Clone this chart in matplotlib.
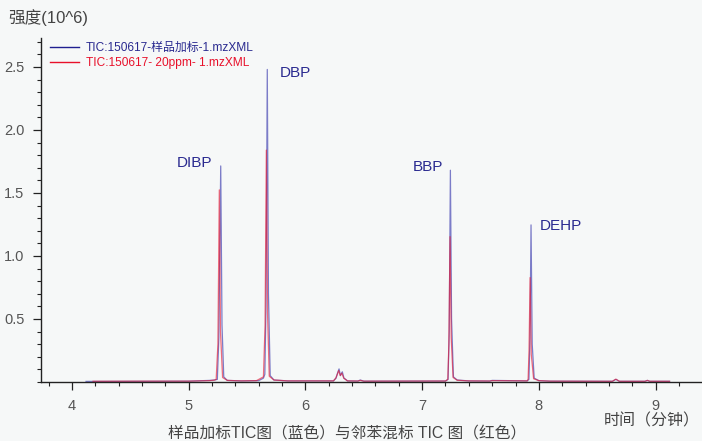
import matplotlib
matplotlib.use("Agg")
import matplotlib.pyplot as plt
from matplotlib.ticker import MultipleLocator

plt.rcParams['font.family'] = ['Liberation Sans', 'Noto Sans CJK SC', 'DejaVu Sans']

# time (min) / intensity (10^6) points
blue_t = [4.12, 4.6, 5.0, 5.18, 5.22, 5.245, 5.258, 5.274, 5.285, 5.3, 5.33, 5.45,
          5.6, 5.64, 5.652, 5.662, 5.673, 5.683, 5.698, 5.73, 5.85,
          6.24, 6.262, 6.275, 6.288, 6.300, 6.316, 6.33, 6.345, 6.36, 6.45, 6.47, 6.5,
          7.2, 7.222, 7.232, 7.242, 7.252, 7.268, 7.3, 7.4, 7.58, 7.6,
          7.9, 7.915, 7.924, 7.933, 7.943, 7.96, 8.0, 8.1,
          8.63, 8.66, 8.69, 8.91, 8.93, 8.95, 9.12]
blue_i = [0.004, 0.005, 0.006, 0.012, 0.015, 0.02, 0.35, 1.714, 0.45, 0.04, 0.012, 0.008,
          0.01, 0.03, 0.06, 0.6, 2.48, 0.7, 0.05, 0.015, 0.008,
          0.008, 0.03, 0.07, 0.103, 0.05, 0.08, 0.03, 0.02, 0.008, 0.007, 0.015, 0.006,
          0.007, 0.02, 0.4, 1.68, 0.5, 0.04, 0.015, 0.008, 0.007, 0.012,
          0.008, 0.02, 0.35, 1.246, 0.3, 0.03, 0.01, 0.006,
          0.005, 0.02, 0.005, 0.005, 0.012, 0.005, 0.005]

red_t = [4.18, 4.6, 5.0, 5.18, 5.22, 5.235, 5.25, 5.262, 5.272, 5.29, 5.33, 5.45,
         5.58, 5.61, 5.64, 5.654, 5.665, 5.675, 5.69, 5.73, 5.85,
         6.24, 6.26, 6.273, 6.285, 6.298, 6.312, 6.328, 6.345, 6.36, 6.45, 6.47, 6.5,
         7.2, 7.22, 7.229, 7.239, 7.249, 7.265, 7.3, 7.4, 7.58, 7.6,
         7.9, 7.908, 7.916, 7.925, 7.935, 7.955, 8.0, 8.1,
         8.63, 8.66, 8.69, 8.91, 8.93, 8.95, 9.12]
red_i = [0.005, 0.006, 0.006, 0.01, 0.014, 0.02, 0.3, 1.524, 0.4, 0.035, 0.012, 0.008,
         0.01, 0.025, 0.04, 0.45, 1.84, 0.55, 0.045, 0.015, 0.008,
         0.008, 0.03, 0.06, 0.09, 0.05, 0.07, 0.03, 0.018, 0.008, 0.007, 0.012, 0.006,
         0.007, 0.02, 0.3, 1.153, 0.35, 0.035, 0.013, 0.008, 0.007, 0.01,
         0.008, 0.02, 0.25, 0.828, 0.22, 0.025, 0.01, 0.006,
         0.005, 0.022, 0.005, 0.005, 0.012, 0.005, 0.005]

legend_labels = ['TIC:150617-样品加标-1.mzXML', 'TIC:150617- 20ppm- 1.mzXML']
peak_names = ['DIBP', 'DBP', 'BBP', 'DEHP']

bg = '#f6f8f8'
fig = plt.figure(figsize=(7.02, 4.41), dpi=100, facecolor=bg)
ax = fig.add_axes([0.0584, 0.134, 0.9416, 0.78], facecolor=bg)

lb, = ax.plot(blue_t, blue_i, color='#2a2aa8', lw=0.9, alpha=0.6)
lr, = ax.plot(red_t, red_i, color='#e8102a', lw=0.9, alpha=0.6)

ax.set_xlim(3.734, 9.398)
ax.set_ylim(0, 2.73)
ax.xaxis.set_major_locator(MultipleLocator(1))
ax.xaxis.set_minor_locator(MultipleLocator(0.2))
ax.yaxis.set_major_locator(MultipleLocator(0.5))
ax.yaxis.set_minor_locator(MultipleLocator(0.1))
ax.set_yticks([0.5, 1.0, 1.5, 2.0, 2.5])
ax.tick_params(which='major', length=6, width=0.9, color='#222222', labelsize=10.5,
               labelcolor='#555555', pad=6)
ax.tick_params(which='minor', length=3, width=0.8, color='#222222')
for s in ['top', 'right']:
    ax.spines[s].set_visible(False)
for s in ['left', 'bottom']:
    ax.spines[s].set_color('#222222')
    ax.spines[s].set_linewidth(1.0)

# peak labels
lab_col = '#2a2a90'
ax.text(4.90, 1.74, peak_names[0], color=lab_col, fontsize=11, va='center', ha='left')
ax.text(5.78, 2.45, peak_names[1], color=lab_col, fontsize=11, va='center', ha='left')
ax.text(6.92, 1.706, peak_names[2], color=lab_col, fontsize=11, va='center', ha='left')
ax.text(8.01, 1.238, peak_names[3], color=lab_col, fontsize=11, va='center', ha='left')

h1, = ax.plot([], [], color='#1f1f90', lw=1.0)
h2, = ax.plot([], [], color='#e8102a', lw=1.0)
leg = ax.legend([h1, h2], legend_labels, loc='upper left', bbox_to_anchor=(0.0, 1.015),
                frameon=False, fontsize=8.6, handlelength=2.4, handletextpad=0.6,
                labelspacing=0.25, borderaxespad=0.35)
leg.get_texts()[0].set_color('#2a2a90')
leg.get_texts()[1].set_color('#e8102a')

fig.text(8 / 702, 1 - 18 / 441, '强度(10^6)', fontsize=12, color='#444444',
         ha='left', va='center')
fig.text(700 / 702, 1 - 421 / 441, '时间（分钟）', fontsize=11.5, color='#444444',
         ha='right', va='center')
fig.text(347 / 702, 1 - 433 / 441, '样品加标TIC图（蓝色）与邻苯混标 TIC 图（红色）',
         fontsize=11.3, color='#444444', ha='center', va='center')

fig.savefig('out.png', dpi=100, facecolor=bg)
